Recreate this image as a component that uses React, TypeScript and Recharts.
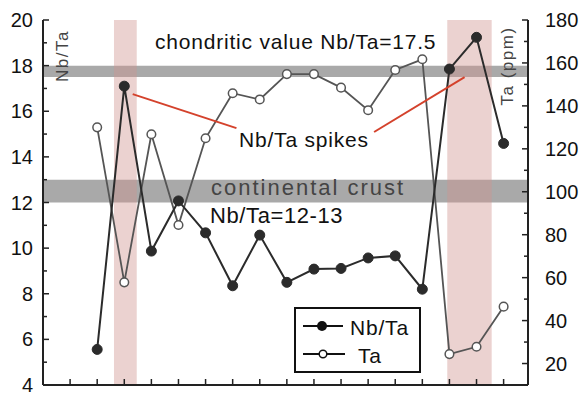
import { LineChart, Line, XAxis, YAxis, ReferenceArea, ReferenceLine } from "recharts";

const FONT = "'Liberation Sans', Arial, sans-serif";

// sample positions along the profile
const sampleNo = [2, 3, 4, 5, 6, 7, 8, 9, 10, 11, 12, 13, 14, 15, 16, 17];
const nbTaRatio = [5.56, 17.1, 9.87, 12.07, 10.67, 8.35, 10.57, 8.5, 9.08, 9.11, 9.57, 9.66, 8.2, 17.85, 19.24, 14.59];
const taPpm = [130, 57.8, 126.8, 84.5, 124.9, 145.9, 143, 154.8, 154.8, 148.5, 138, 156.7, 161.7, 24.4, 27.8, 46.5];

const leftTicks = [4, 5, 6, 7, 8, 9, 10, 11, 12, 13, 14, 15, 16, 17, 18, 19, 20];
const rightTicks = [20, 30, 40, 50, 60, 70, 80, 90, 100, 110, 120, 130, 140, 150, 160, 170, 180];
const bottomTicks = [1, 2, 3, 4, 5, 6, 7, 8, 9, 10, 11, 12, 13, 14, 15, 16, 17];

const chondriticBand = [17.5, 18.0];
const crustBand = [12, 13];
const spikeZones = [
  [2.62, 3.46],
  [14.92, 16.56],
];
// pointer lines from the "Nb/Ta spikes" label: [x1, y1, x2, y2] in data units
const pointers = [
  [3.31, 16.75, 7.14, 15.26],
  [12.22, 15.09, 15.56, 17.5],
];

const data = sampleNo.map((s, i) => ({ s, nbta: nbTaRatio[i], ta: taPpm[i] }));

const LeftTick = (props: any) => {
  const { x, y, payload } = props;
  const v = payload.value;
  const major = v % 2 === 0;
  const ax = x + 10;
  return (
    <g>
      <line x1={ax} x2={ax + (major ? 6 : 4)} y1={y} y2={y} stroke="#222" strokeWidth={1.5} />
      {major && (
        <text x={x} y={y} dy={7} textAnchor="end" fontSize={20} fill="#111" fontFamily={FONT}>
          {v}
        </text>
      )}
    </g>
  );
};

const RightTick = (props: any) => {
  const { x, y, payload } = props;
  const v = payload.value;
  const major = v % 20 === 0;
  const ax = x - 17;
  return (
    <g>
      <line x1={ax} x2={ax - (major ? 6 : 4)} y1={y} y2={y} stroke="#222" strokeWidth={1.5} />
      {major && (
        <text x={x} y={y} dy={7} textAnchor="start" fontSize={20} fill="#111" fontFamily={FONT}>
          {v}
        </text>
      )}
    </g>
  );
};

const BottomTick = (props: any) => {
  const { x, y } = props;
  return <line x1={x} x2={x} y1={y} y2={y - 6} stroke="#222" strokeWidth={1.5} />;
};

const NbTaDot = (props: any) => {
  const { cx, cy } = props;
  return <circle cx={cx} cy={cy} r={5} fill="#2b2b2b" stroke="#2b2b2b" />;
};

const TaDot = (props: any) => {
  const { cx, cy } = props;
  return <circle cx={cx} cy={cy} r={4.3} fill="#fff" stroke="#555" strokeWidth={1.5} />;
};

export default function App() {
  const axisLine = { stroke: "#222", strokeWidth: 2 };
  return (
    <div style={{ position: "absolute", left: 0, top: 0, width: 579, height: 393, background: "#fff" }}>
      <LineChart width={579} height={393} data={data} margin={{ top: 20, right: 0, bottom: 0, left: 0 }}>
        <XAxis
          dataKey="s"
          type="number"
          domain={[0, 17.9]}
          ticks={bottomTicks}
          interval={0}
          height={8}
          tickSize={0}
          tickMargin={0}
          tick={<BottomTick />}
          axisLine={axisLine}
          allowDataOverflow
        />
        <XAxis
          xAxisId="top"
          orientation="top"
          dataKey="s"
          type="number"
          domain={[0, 17.9]}
          height={0}
          tick={false}
          tickLine={false}
          axisLine={axisLine}
        />
        <YAxis
          yAxisId="left"
          domain={[4, 20]}
          ticks={leftTicks}
          interval={0}
          width={43}
          tickSize={0}
          tickMargin={10}
          tick={<LeftTick />}
          axisLine={axisLine}
        />
        <YAxis
          yAxisId="right"
          orientation="right"
          domain={[10, 180]}
          ticks={rightTicks}
          interval={0}
          width={51}
          tickSize={0}
          tickMargin={17}
          tick={<RightTick />}
          axisLine={axisLine}
        />
        <ReferenceArea yAxisId="left" y1={chondriticBand[0]} y2={chondriticBand[1]} fill="#a9a9a9" fillOpacity={1} stroke="none" />
        <ReferenceArea yAxisId="left" y1={crustBand[0]} y2={crustBand[1]} fill="#a9a9a9" fillOpacity={1} stroke="none" />
        {spikeZones.map((z, i) => (
          <ReferenceArea key={i} yAxisId="left" x1={z[0]} x2={z[1]} fill="#cf938e" fillOpacity={0.42} stroke="none" />
        ))}
        <Line
          yAxisId="right"
          dataKey="ta"
          stroke="#555"
          strokeWidth={1.8}
          dot={<TaDot />}
          isAnimationActive={false}
        />
        <Line
          yAxisId="left"
          dataKey="nbta"
          stroke="#2b2b2b"
          strokeWidth={2}
          dot={<NbTaDot />}
          isAnimationActive={false}
        />
        {pointers.map((p, i) => (
          <ReferenceLine
            key={i}
            yAxisId="left"
            segment={[
              { x: p[0], y: p[1] },
              { x: p[2], y: p[3] },
            ]}
            stroke="#d4422c"
            strokeWidth={2}
          />
        ))}
      </LineChart>
      <svg width={579} height={393} style={{ position: "absolute", left: 0, top: 0, pointerEvents: "none" }}>
        <g fontFamily={FONT} fontSize={21} fill="#111">
          <text x={155} y={49} letterSpacing={0.8}>chondritic value Nb/Ta=17.5</text>
          <text x={239} y={147} letterSpacing={0.8}>Nb/Ta spikes</text>
          <text x={211} y={195} fontSize={22} letterSpacing={2} fill="#444">continental crust</text>
          <text x={210} y={223} fontSize={22} letterSpacing={0.6}>Nb/Ta=12-13</text>
          <text x={0} y={0} fontSize={17} letterSpacing={1.5} fill="#444" textAnchor="middle" transform="translate(68 56) rotate(-90)">Nb/Ta</text>
          <text x={0} y={0} fontSize={17} letterSpacing={1.5} fill="#444" textAnchor="middle" transform="translate(513 66) rotate(-90)">Ta (ppm)</text>
        </g>
        <g>
          <rect x={295} y={308} width={125} height={64} fill="#fff" stroke="#111" strokeWidth={2} />
          <line x1={303} x2={343} y1={326} y2={326} stroke="#111" strokeWidth={2} />
          <circle cx={322} cy={326} r={5} fill="#111" />
          <line x1={303} x2={345} y1={354} y2={354} stroke="#111" strokeWidth={2} />
          <circle cx={323} cy={354} r={3.8} fill="#fff" stroke="#111" strokeWidth={1.5} />
          <text x={350} y={335} fontFamily={FONT} fontSize={21} letterSpacing={0.8} fill="#111">Nb/Ta</text>
          <text x={358} y={363} fontFamily={FONT} fontSize={21} letterSpacing={0.8} fill="#111">Ta</text>
        </g>
      </svg>
    </div>
  );
}
